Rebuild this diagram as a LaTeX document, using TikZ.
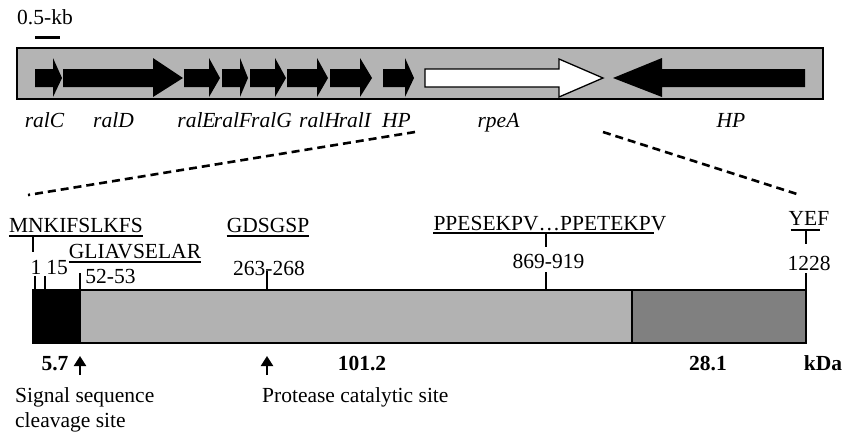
\documentclass[tikz,border=0pt]{standalone}
\usepackage{fontspec}
\setmainfont{Liberation Serif}
\usetikzlibrary{arrows.meta}

\definecolor{locusgray}{RGB}{180,180,180}
\definecolor{maturegray}{RGB}{178,178,178}
\definecolor{betagray}{RGB}{128,128,128}

\tikzset{
    txt/.style={inner sep=0pt, anchor=base, font=\fontsize{21.5}{25}\selectfont},
    gene/.style={inner sep=0pt, anchor=base, font=\fontsize{21.5}{25}\selectfont\itshape},
    kda/.style={inner sep=0pt, anchor=base, font=\fontsize{21.5}{25}\selectfont\bfseries},
    tick/.style={line width=1.6pt},
    zoomline/.style={line width=2.6pt, dash pattern=on 8pt off 5pt},
    site/.style={line width=2.2pt, -{Triangle[width=12pt,length=10pt]}},
}

\begin{document}
\begin{tikzpicture}[x=1pt,y=-1pt]
    \useasboundingbox (0,0) rectangle (843,432);

    % Locus:
    % Scale bar on top, then the grey box that holds the genes
    \node[txt] (scale) at (45,24) {0.5-kb};
    \draw[line width=3pt] (35,37) -- (60,37);
    \draw[line width=1.5pt, fill=locusgray] (17,48) rectangle (823,99);

    % Genes:
    % Every gene is a polygon given by its start, the start of the head and the tip
    \foreach \s/\h/\t/\lx/\lab [count=\i] in {35/53/62/44.5/ralC, 63/153/183/113.5/ralD,
        184/209/220/196.5/ralE, 222/240/248/233/ralF, 250/275/286/271.5/ralG,
        287/317/328/319.5/ralH, 330/360/372/355/ralI, 383/405/414/396.5/HP}{%
        \fill (\s,69) -- (\h,69) -- (\h,58) -- (\t,78) -- (\h,97) -- (\h,87) -- (\s,87) -- cycle;
        \node[gene] (g\i) at (\lx,127) {\lab};
    }
    % rpeA in white, and the last HP pointing backwards
    \draw[line width=1.3pt, fill=white] (425,69) -- (559,69) -- (559,59) -- (603,78)
        -- (559,97) -- (559,87) -- (425,87) -- cycle;
    \node[gene] (rpeA) at (498.5,127) {rpeA};
    \fill (613,78) -- (662,58) -- (662,69) -- (805,69) -- (805,87) -- (662,87) -- (662,97) -- cycle;
    \node[gene] (hpR) at (731,127) {HP};

    % Zoom lines from rpeA down to the protein
    \coordinate (zoomA) at (415,132);
    \coordinate (zoomB) at (603,132);
    \coordinate (protA) at (28,195);
    \coordinate (protB) at (800,195);
    \draw[zoomline] (zoomA) -- (protA);
    \draw[zoomline] (zoomB) -- (protB);

    % Protein:
    % signal peptide, mature protease and beta domain
    \draw[line width=1.3pt, fill=black] (33,290) rectangle (80,343);
    \draw[line width=1.3pt, fill=maturegray] (80,290) rectangle (632,343);
    \draw[line width=1.3pt, fill=betagray] (632,290) rectangle (806,343);

    % Motifs, underlined, with a short tick down
    \node[txt] (mnk) at (76,232) {MNKIFSLKFS};
    \draw[tick] ([yshift=-4pt]mnk.base west) -- ([yshift=-4pt]mnk.base east);
    \draw[tick] (33,236) -- (33,252);
    \node[txt] (gli) at (135,258) {GLIAVSELAR};
    \draw[tick] ([yshift=-4pt]gli.base west) -- ([yshift=-4pt]gli.base east);
    \node[txt] (gds) at (268,232) {GDSGSP};
    \draw[tick] ([yshift=-4pt]gds.base west) -- ([yshift=-4pt]gds.base east);
    \node[txt] (ppe) at (550,230) {PPESEKPV\ldots PPETEKPV};
    \draw[tick] ([yshift=-3pt]ppe.base west) -- ([xshift=-13pt,yshift=-3pt]ppe.base east);
    \draw[tick] (546,233) -- (546,247);
    \node[txt] (yef) at (809,225) {YEF};
    \draw[tick] ([xshift=2pt,yshift=-5pt]yef.base west) -- ([xshift=-10pt,yshift=-5pt]yef.base east);
    \draw[tick] (806,230) -- (806,244);

    % Residue numbers with their ticks on the bar
    \foreach \x/\y/\top/\lx/\num [count=\i] in {35/274/276/36/1, 45/274/276/57/15,
        80/283/273/110.5/52-53, 267/275/271/269/263-268, 546/268/272/548.5/869-919,
        806/270/273/809/1228}{%
        \node[txt] (n\i) at (\lx,\y) {\num};
        \draw[tick] (\x,\top) -- (\x,290);
    }

    % Sizes and sites below the bar
    \node[kda] (k1) at (55,370) {5.7};
    \node[kda] (k2) at (362,370) {101.2};
    \node[kda] (k3) at (708,370) {28.1};
    \node[kda] (kda) at (823,370) {kDa};
    \coordinate (cleave) at (80,356);
    \coordinate (cat) at (267,356);
    \draw[site] (80,375) -- (cleave);
    \draw[site] (267,375) -- (cat);
    \node[txt, anchor=base west] (sig1) at (15,402) {Signal sequence};
    \node[txt, anchor=base west] (sig2) at (15,427) {cleavage site};
    \node[txt, anchor=base west] (prot) at (262,402) {Protease catalytic site};
\end{tikzpicture}
\end{document}
